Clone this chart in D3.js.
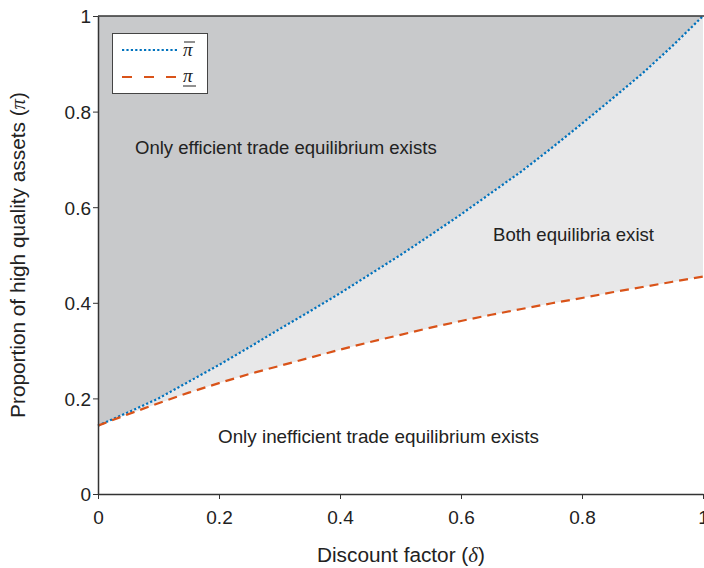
<!DOCTYPE html>
<html><head><meta charset="utf-8">
<script src="https://cdn.jsdelivr.net/npm/d3@7"></script>
<style>body{margin:0;background:#fff}svg{display:block}</style>
</head><body>
<svg id="c" width="704" height="568"></svg>
<script>
// Data
const delta = [0, 0.05, 0.1, 0.15, 0.2, 0.25, 0.3, 0.35, 0.4, 0.45, 0.5, 0.55, 0.6, 0.65, 0.7, 0.75, 0.8, 0.85, 0.9, 0.95, 1];
const piUpper = [0.143, 0.171, 0.200, 0.235, 0.270, 0.307, 0.345, 0.382, 0.420, 0.460, 0.500, 0.542, 0.585, 0.630, 0.675, 0.724, 0.775, 0.827, 0.880, 0.938, 1.0];
const piLower = [0.143, 0.167, 0.190, 0.212, 0.232, 0.251, 0.268, 0.285, 0.302, 0.318, 0.333, 0.348, 0.362, 0.375, 0.387, 0.399, 0.410, 0.422, 0.433, 0.444, 0.455];
const xTicks = [0, 0.2, 0.4, 0.6, 0.8, 1];
const yTicks = [0, 0.2, 0.4, 0.6, 0.8, 1];
const xTickLabels = ["0", "0.2", "0.4", "0.6", "0.8", "1"];
const yTickLabels = ["0", "0.2", "0.4", "0.6", "0.8", "1"];

const svg = d3.select("#c");
const L = 98, R = 703, T = 16, B = 494;
const x = d3.scaleLinear().domain([0, 1]).range([L, R]);
const y = d3.scaleLinear().domain([0, 1]).range([B, T]);
const pts = delta.map((d, i) => ({d, u: piUpper[i], l: piLower[i]}));
const font = "'Liberation Sans', Arial, Helvetica, sans-serif";
const serif = "'Liberation Serif', 'DejaVu Serif', serif";

// fit a text's font size so its length matches a target width
function fit(sel, target) {
  const fs = parseFloat(sel.style("font-size"));
  const w = sel.node().getComputedTextLength();
  const nfs = fs * target / w;
  sel.style("font-size", nfs.toFixed(2) + "px");
  return nfs;
}

// Region above upper curve (dark gray)
svg.append("path").datum(pts)
  .attr("d", d3.area().x(p => x(p.d)).y0(y(1)).y1(p => y(p.u)))
  .attr("fill", "#c8c9cb");
// Region between curves (light gray)
svg.append("path").datum(pts)
  .attr("d", d3.area().x(p => x(p.d)).y0(p => y(p.l)).y1(p => y(p.u)))
  .attr("fill", "#e8e8e9");

// Curves
svg.append("path").datum(pts)
  .attr("d", d3.line().x(p => x(p.d)).y(p => y(p.u)))
  .attr("fill", "none").attr("stroke", "#0072bd").attr("stroke-width", 2.2)
  .attr("stroke-dasharray", "2.2,2.2");
svg.append("path").datum(pts)
  .attr("d", d3.line().x(p => x(p.d)).y(p => y(p.l)))
  .attr("fill", "none").attr("stroke", "#d95319").attr("stroke-width", 2.2)
  .attr("stroke-dasharray", "9,6");

// Axes
const xAxis = d3.axisBottom(x).tickValues(xTicks).tickFormat((d, i) => xTickLabels[i]).tickSize(5).tickSizeOuter(0);
const yAxis = d3.axisLeft(y).tickValues(yTicks).tickFormat((d, i) => yTickLabels[i]).tickSize(5).tickSizeOuter(0);
const gx = svg.append("g").attr("transform", `translate(0,${B})`).call(xAxis);
const gy = svg.append("g").attr("transform", `translate(${L},0)`).call(yAxis);
[gx, gy].forEach(g => {
  g.select(".domain").attr("stroke", "#333").attr("stroke-width", 1.5);
  g.selectAll(".tick line").attr("stroke", "#333").attr("stroke-width", 1);
  g.selectAll(".tick text").attr("fill", "#222").style("font-family", font).style("font-size", "19px");
});
gx.selectAll(".tick text").attr("dy", "0").attr("y", 30);
gy.selectAll(".tick text").attr("x", -7).attr("dy", "0.36em");
// top border
svg.append("line").attr("x1", L).attr("x2", 704).attr("y1", T).attr("y2", T)
  .attr("stroke", "#333").attr("stroke-width", 1.5);

// Region labels
const lab = (t, xx, yy, w) => {
  const s = svg.append("text").attr("x", xx).attr("y", yy).text(t)
    .attr("fill", "#222").style("font-family", font).style("font-size", "18px");
  fit(s, w);
  return s;
};
lab("Only efficient trade equilibrium exists", 135, 154, 302);
lab("Both equilibria exist", 493, 241, 161);
lab("Only inefficient trade equilibrium exists", 218, 443, 321);

// Axis titles
const xt = svg.append("text").attr("x", 317).attr("y", 562)
  .attr("fill", "#222").style("font-family", font).style("font-size", "20px");
xt.append("tspan").text("Discount factor (");
xt.append("tspan").text("δ").style("font-family", serif).style("font-style", "italic");
xt.append("tspan").text(")");
const titleFs = fit(xt, 168);

const yt = svg.append("text").attr("transform", `translate(25,${(T + B) / 2}) rotate(-90)`)
  .attr("text-anchor", "middle")
  .attr("fill", "#222").style("font-family", font).style("font-size", titleFs.toFixed(2) + "px");
yt.append("tspan").text("Proportion of high quality assets (");
yt.append("tspan").text("π").style("font-family", serif).style("font-style", "italic");
yt.append("tspan").text(")");

// Legend
const lg = svg.append("g");
lg.append("rect").attr("x", 112.5).attr("y", 33.5).attr("width", 95).attr("height", 60)
  .attr("fill", "#fff").attr("stroke", "#444").attr("stroke-width", 1);
lg.append("line").attr("x1", 122).attr("x2", 178).attr("y1", 50).attr("y2", 50)
  .attr("stroke", "#0072bd").attr("stroke-width", 2.2).attr("stroke-dasharray", "2.2,2.2");
lg.append("line").attr("x1", 122).attr("x2", 178).attr("y1", 77).attr("y2", 77)
  .attr("stroke", "#d95319").attr("stroke-width", 2.2).attr("stroke-dasharray", "10,12");
lg.append("text").attr("x", 183).attr("y", 56).text("π").attr("fill", "#222")
  .style("font-family", serif).style("font-style", "italic").style("font-size", "19px");
lg.append("line").attr("x1", 184).attr("x2", 195).attr("y1", 42).attr("y2", 42).attr("stroke", "#222").attr("stroke-width", 1);
lg.append("text").attr("x", 183).attr("y", 82).text("π").attr("fill", "#222")
  .style("font-family", serif).style("font-style", "italic").style("font-size", "19px");
lg.append("line").attr("x1", 183).attr("x2", 196).attr("y1", 86).attr("y2", 86).attr("stroke", "#222").attr("stroke-width", 1);
</script>
</body></html>
